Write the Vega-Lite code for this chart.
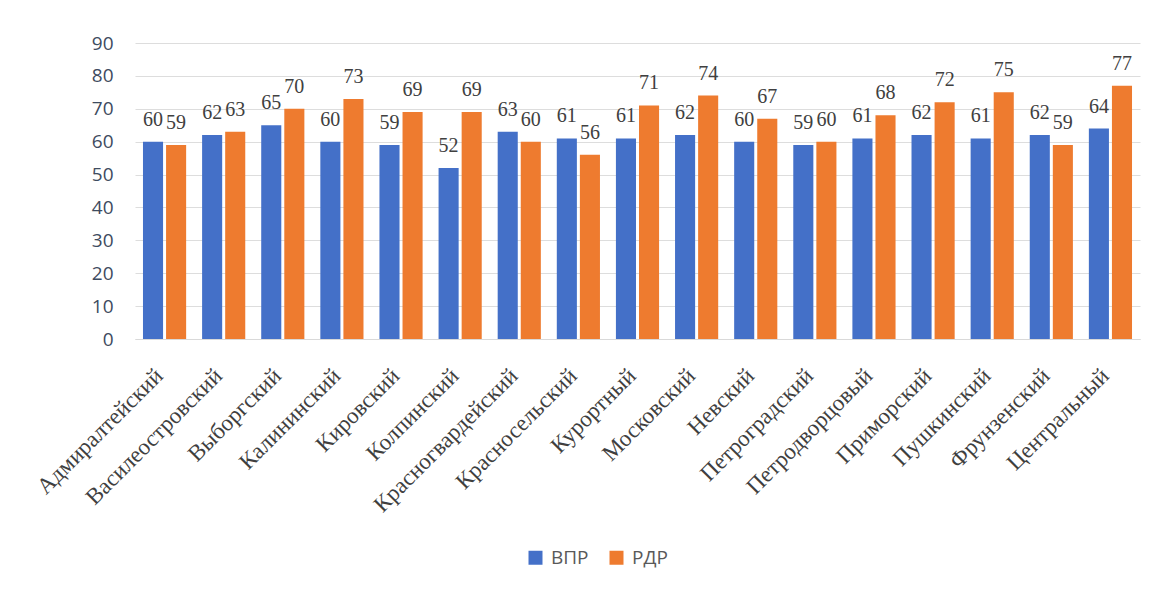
{
  "$schema": "https://vega.github.io/schema/vega-lite/v6.json",
  "width": 1005,
  "height": 296,
  "autosize": {"type": "none"},
  "padding": {"left": 135, "top": 43, "right": 13, "bottom": 251},
  "background": "white",
  "config": {"view": {"stroke": null}},
  "data": {"values": [
    {"district": "Адмиралтейский", "test": "ВПР", "value": 60},
    {"district": "Адмиралтейский", "test": "РДР", "value": 59},
    {"district": "Василеостровский", "test": "ВПР", "value": 62},
    {"district": "Василеостровский", "test": "РДР", "value": 63},
    {"district": "Выборгский", "test": "ВПР", "value": 65},
    {"district": "Выборгский", "test": "РДР", "value": 70},
    {"district": "Калининский", "test": "ВПР", "value": 60},
    {"district": "Калининский", "test": "РДР", "value": 73},
    {"district": "Кировский", "test": "ВПР", "value": 59},
    {"district": "Кировский", "test": "РДР", "value": 69},
    {"district": "Колпинский", "test": "ВПР", "value": 52},
    {"district": "Колпинский", "test": "РДР", "value": 69},
    {"district": "Красногвардейский", "test": "ВПР", "value": 63},
    {"district": "Красногвардейский", "test": "РДР", "value": 60},
    {"district": "Красносельский", "test": "ВПР", "value": 61},
    {"district": "Красносельский", "test": "РДР", "value": 56},
    {"district": "Курортный", "test": "ВПР", "value": 61},
    {"district": "Курортный", "test": "РДР", "value": 71},
    {"district": "Московский", "test": "ВПР", "value": 62},
    {"district": "Московский", "test": "РДР", "value": 74},
    {"district": "Невский", "test": "ВПР", "value": 60},
    {"district": "Невский", "test": "РДР", "value": 67},
    {"district": "Петроградский", "test": "ВПР", "value": 59},
    {"district": "Петроградский", "test": "РДР", "value": 60},
    {"district": "Петродворцовый", "test": "ВПР", "value": 61},
    {"district": "Петродворцовый", "test": "РДР", "value": 68},
    {"district": "Приморский", "test": "ВПР", "value": 62},
    {"district": "Приморский", "test": "РДР", "value": 72},
    {"district": "Пушкинский", "test": "ВПР", "value": 61},
    {"district": "Пушкинский", "test": "РДР", "value": 75},
    {"district": "Фрунзенский", "test": "ВПР", "value": 62},
    {"district": "Фрунзенский", "test": "РДР", "value": 59},
    {"district": "Центральный", "test": "ВПР", "value": 64},
    {"district": "Центральный", "test": "РДР", "value": 77}
  ]},
  "encoding": {
    "x": {
      "field": "district", "type": "nominal", "sort": null,
      "scale": {"paddingInner": 0.27, "paddingOuter": 0.135},
      "axis": {
        "title": null, "labelAngle": -45, "labelFont": "Liberation Serif",
        "labelFontSize": 23, "labelColor": "#3F3F3F", "ticks": false,
        "domain": true, "domainColor": "#D9D9D9", "labelPadding": 25,
        "labelOffset": -13, "labelLimit": 500,
        "labelOverlap": false, "labelBound": false
      }
    },
    "xOffset": {"field": "test", "type": "nominal", "sort": ["ВПР", "РДР"], "scale": {"paddingInner": 0.13, "paddingOuter": 0}},
    "y": {
      "field": "value", "type": "quantitative",
      "scale": {"domain": [0, 90], "nice": false},
      "axis": {
        "title": null, "values": [0, 10, 20, 30, 40, 50, 60, 70, 80, 90],
        "domain": false, "ticks": false, "labelFont": "Open Sans",
        "labelFontSize": 19, "labelColor": "#3E4B60", "labelPadding": 22,
        "gridColor": "#DDDDDD", "gridWidth": 1
      }
    }
  },
  "layer": [
    {
      "mark": {"type": "bar"},
      "encoding": {
        "color": {
          "field": "test", "type": "nominal", "sort": ["ВПР", "РДР"],
          "scale": {"domain": ["ВПР", "РДР"], "range": ["#4470C8", "#EE7B2F"]},
          "legend": {
            "title": null, "orient": "none", "direction": "horizontal",
            "legendX": 391, "legendY": 505, "symbolType": "square",
            "symbolSize": 196, "symbolStrokeWidth": 0, "labelFont": "Open Sans",
            "labelFontSize": 19, "labelColor": "#595959", "columnPadding": 18,
            "labelOffset": 6
          }
        }
      }
    },
    {
      "mark": {"type": "text", "font": "Liberation Serif", "fontSize": 20, "color": "#404040", "baseline": "alphabetic", "dy": -16},
      "encoding": {"text": {"field": "value", "type": "quantitative"}}
    }
  ]
}
